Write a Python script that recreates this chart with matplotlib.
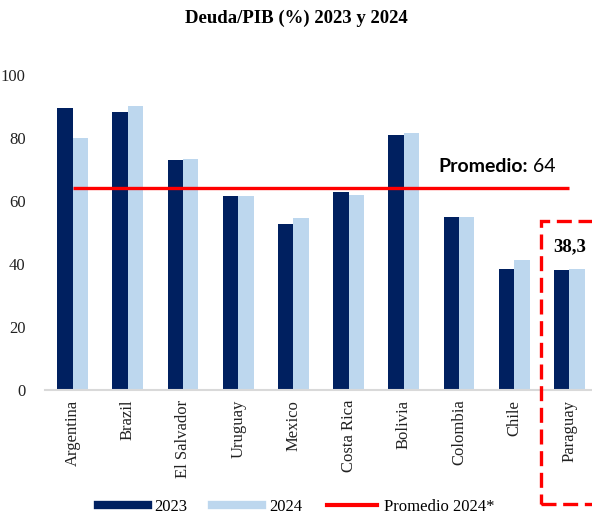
import numpy as np
import matplotlib.pyplot as plt
from matplotlib.lines import Line2D
from matplotlib.patches import Rectangle

# Data
countries = ["Argentina", "Brazil", "El Salvador", "Uruguay", "Mexico",
             "Costa Rica", "Bolivia", "Colombia", "Chile", "Paraguay"]
deuda_2023 = [89.6, 88.1, 73.0, 61.6, 52.7, 62.9, 80.8, 55.0, 38.4, 38.2]
deuda_2024 = [79.9, 90.3, 73.3, 61.5, 54.7, 61.8, 81.6, 55.0, 41.2, 38.3]
promedio_2024 = 64
paraguay_label = "38,3"

navy = "#002060"
light = "#BDD7EE"
red = "#FF0000"
serif = ["Liberation Serif", "DejaVu Serif"]

plt.rcParams["font.family"] = serif

fig = plt.figure(figsize=(5.92, 5.17), dpi=100)
ax = fig.add_axes([45 / 592, 1 - 390 / 517, 552 / 592, 315 / 517])

x = np.arange(len(countries))
w = 0.28
ax.bar(x - w / 2, deuda_2023, w, color=navy, label="2023")
ax.bar(x + w / 2, deuda_2024, w, color=light, label="2024")
ax.hlines(promedio_2024, x[0], x[-1], color=red, lw=2.4)

ax.set_xlim(-0.5, len(countries) - 0.5)
ax.set_ylim(0, 100)
ax.set_yticks(range(0, 101, 20))
ax.set_xticks(x)
ax.set_xticklabels(countries, rotation=90)
ax.tick_params(axis="both", length=0, labelsize=12, colors="#222222")
ax.tick_params(axis="y", pad=14)
ax.tick_params(axis="x", pad=7)
for s in ["top", "right", "left"]:
    ax.spines[s].set_visible(False)
ax.spines["bottom"].set_color("#D9D9D9")
ax.spines["bottom"].set_linewidth(1.5)

# average label
t1 = ax.text(6.62, 71.1, "Promedio:", family=["Lato", "DejaVu Sans"],
             fontweight="bold", fontsize=14, va="center", ha="left")
ax.annotate(" " + str(promedio_2024), xy=(1, 0), xycoords=t1, va="bottom",
            ha="left", family=["Lato", "DejaVu Sans"], fontsize=14)

# Paraguay highlight
ax.annotate(paraguay_label, xy=(x[-1], deuda_2024[-1]), xytext=(0, 16),
            textcoords="offset points", ha="center", va="center",
            fontweight="bold", fontsize=13.5)
fig.patches.append(Rectangle((541 / 592, 1 - 504 / 517), 0.2, (504 - 221) / 517,
                             transform=fig.transFigure, fill=False,
                             edgecolor=red, lw=2.4, linestyle=(0, (4.5, 2)),
                             clip_on=False))

fig.text(0.5, 1 - 18 / 517, "Deuda/PIB (%) 2023 y 2024", ha="center",
         va="center", fontweight="bold", fontsize=13.5)

handles = [Line2D([], [], color=navy, lw=6),
           Line2D([], [], color=light, lw=6),
           Line2D([], [], color=red, lw=3)]
fig.legend(handles, ["2023", "2024", "Promedio 2024*"], loc="center",
           bbox_to_anchor=(0.5, 1 - 507 / 517), ncol=3, frameon=False,
           fontsize=12, handlelength=3.0, handletextpad=0.4,
           columnspacing=1.5, borderpad=0.1)

fig.savefig("out.png", dpi=100)
